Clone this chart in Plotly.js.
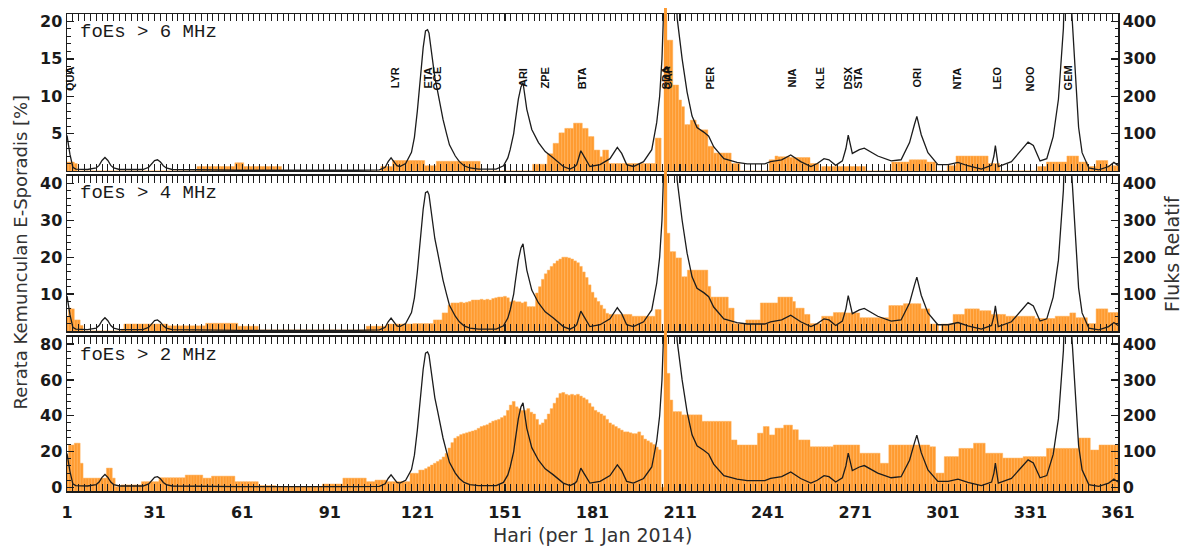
<!DOCTYPE html>
<html><head><meta charset="utf-8">
<script src="https://cdn.plot.ly/plotly-3.0.1.min.js"></script>
<style>html,body{margin:0;padding:0;background:#fff}</style>
</head><body><div id="chart" style="width:1187px;height:548px"></div>
<script>
// ---- data ----
const firstDay = 1, lastDay = 361;
const days = Array.from({length: lastDay - firstDay + 1}, (_, i) => firstDay + i);
const xTicks = [1, 31, 61, 91, 121, 151, 181, 211, 241, 271, 301, 331, 361];

// Es occurrence, foEs > 6 MHz (%)
const es6 = [
1.2,1.2,1.2,1.0,0,0,0,0,0,0,
0,0,0,0,0,0,0,0,0,0,
0,0,0,0,0,0,0,0,0,0,
0,0,0,0,0,0,0,0,0,0,
0,0,0,0,0,0.6,0.6,0.6,0.6,0.6,
0.6,0.6,0.6,0.6,0.6,0.6,0.6,0.6,1.1,1.1,
1.1,0.6,0.6,0.6,0.6,0.6,0.6,0.6,0.6,0.6,
0.6,0.6,0.6,0.6,0,0,0,0,0,0,
0,0,0,0,0,0,0,0,0,0,
0,0,0,0,0,0,0,0,0,0,
0,0,0,0,0,0,0,0,0.6,0.6,
0.6,0.6,1.4,1.4,1.4,1.4,1.4,1.4,1.4,1.4,
1.4,1.4,1.4,0.7,0.7,0.7,0.7,1.3,1.3,1.3,
1.3,1.3,1.3,1.3,1.3,1.3,1.3,1.3,1.3,1.3,
1.3,1.3,0,0,0,0,0,0,0,0,
0,0,0,0,0,0,0,0,0,0,
0.9,0.9,0.9,0.9,0.9,2.3,2.3,3.7,3.7,5.1,
5.1,5.7,5.7,5.7,6.4,6.4,6.4,5.7,5.7,4.6,
4.6,2.8,2.8,1.9,2.8,2.8,1.0,1.0,1.0,1.0,
1.0,1.0,1.0,1.0,1.0,1.0,1.0,1.0,1.0,1.0,
1.0,1.0,4.4,4.4,0,30,17.5,17.5,11.5,11.5,
9.5,8.6,6.2,6.2,6.8,6.8,6.2,5.5,5.5,5.5,
3.3,3.3,2.4,2.4,2.4,2.4,2.4,2.4,1.0,1.0,
1.0,0,0,0,0,0,0,0,0,0,
0,1.5,1.5,2.0,1.9,1.9,1.9,1.9,1.8,1.8,
1.8,1.8,1.8,1.8,1.8,1.0,1.0,1.0,0,0.6,
0.6,0.6,0.6,0.6,0.6,0.6,0.6,0.6,0.6,0.6,
0.6,0.6,0.6,0.6,0,0,0,0,0,0,
0,0,0,1.2,1.2,1.2,1.2,1.2,1.2,1.5,
1.5,1.5,1.5,1.5,1.5,1.2,1.2,1.2,0,0,
0,0,0.7,0.7,0.7,2.0,2.0,2.0,2.0,2.0,
2.0,2.0,2.0,2.0,2.0,2.0,1.0,1.0,1.0,1.0,
0,0,0,0,0,0,0,0,0,0,
0,0,0,0.6,0.6,0.6,1.2,1.2,1.2,1.2,
1.2,1.2,1.2,2.0,2.0,2.0,2.0,1.2,1.2,1.2,
0.6,0.6,0.6,1.4,1.4,1.4,1.4,0.7,0.7,0.7,
0.7];

// Es occurrence, foEs > 4 MHz (%)
const es4 = [
3.9,6.2,6.0,3.0,3.0,1.5,0,0,0,0,
0,0,0,0,0,0,0,0,0,0.5,
1.9,1.9,1.9,1.9,1.9,1.9,1.9,1.9,1.9,1.9,
1.9,1.9,1.9,1.9,1.9,1.4,1.4,1.4,1.4,1.4,
1.4,1.4,1.4,1.4,1.4,1.4,1.4,1.4,2.1,2.1,
2.1,2.1,2.1,2.1,2.1,2.1,2.1,2.1,2.1,1.3,
1.3,1.3,1.3,1.3,1.3,1.3,0.3,0.3,0.3,0.3,
0.3,0.3,0.3,0.3,0.3,0.3,0.3,0.3,0.3,0.3,
0.3,0.3,0.3,0.3,0.3,0.3,0.3,0.3,0.3,0.3,
0.3,0.3,0.3,0.3,0.3,0.3,0.3,0.3,0.3,0.3,
0.3,0.3,0.3,1.3,1.3,1.3,1.3,1.3,1.3,1.3,
1.9,1.9,1.9,1.9,1.9,1.9,1.9,1.9,1.9,2.0,
2.0,2.0,2.0,2.0,2.0,2.0,3.0,3.0,3.0,4.9,
4.9,7.0,7.6,7.6,7.6,7.8,7.6,7.8,8.0,8.4,
8.4,8.4,8.6,8.4,8.6,8.4,8.8,9.0,9.2,9.2,
9.4,9.0,7.9,8.2,7.9,7.9,7.6,7.9,6.6,6.6,
6.6,10.3,12.0,14.0,15.5,16.5,17.5,18.3,19.0,19.5,
20.0,20.0,19.8,19.5,19.0,18.5,17.5,16.0,14.5,12.5,
10.5,9.0,8.0,7.0,6.0,4.8,4.5,4.5,4.5,4.5,
4.5,4.5,4.5,4.5,4.0,4.0,4.0,4.0,4.0,4.0,
4.0,4.0,5.8,5.8,0,50,26.5,21.5,21.5,19.8,
19.8,14.7,14.7,16.5,16.5,16.5,16.5,16.5,16.5,16.5,
12.1,9.2,9.2,9.2,9.2,9.2,9.2,6.2,6.2,2.0,
2.0,2.0,2.0,3.0,3.0,3.0,3.0,3.0,7.6,7.6,
7.6,7.6,7.6,7.6,9.2,9.2,9.2,9.2,9.2,8.0,
6.2,6.2,6.2,4.5,4.5,2.0,2.0,2.0,2.0,4.0,
4.0,4.0,4.0,5.0,5.0,5.0,5.0,4.9,4.9,4.9,
4.9,4.9,3.6,3.6,3.6,3.6,3.6,3.6,3.6,3.6,
3.6,3.6,6.9,6.9,6.9,6.9,6.9,7.4,7.4,7.4,
7.4,7.4,7.4,6.0,6.0,6.0,1.9,1.9,1.9,0,
1.9,1.9,1.9,1.9,4.5,4.5,4.5,4.5,6.0,6.0,
6.0,6.0,6.0,5.5,5.5,5.5,5.5,4.5,4.5,4.5,
4.5,4.5,4.0,4.0,4.0,4.0,4.0,4.0,4.0,4.0,
4.0,4.0,3.4,3.4,3.4,3.4,3.4,3.4,3.4,4.0,
4.0,4.0,4.0,4.0,4.9,4.9,3.6,3.6,3.6,3.6,
2.0,2.0,2.0,6.0,6.0,6.0,6.0,5.0,5.0,5.0,
5.0];

// Es occurrence, foEs > 2 MHz (%)
const es2 = [
17.2,23.7,23.7,24.7,24.7,13.5,5.2,5.2,5.2,5.2,
5.2,5.2,5.2,5.2,10.8,10.8,5.2,0.4,0.4,1.4,
1.4,1.4,1.4,1.4,1.4,1.4,3.2,3.2,3.2,3.2,
3.2,3.2,5.4,5.4,5.4,5.4,5.4,5.4,5.4,5.4,
5.4,6.9,6.9,6.9,6.9,6.9,6.9,5.2,5.2,5.2,
6.3,6.3,6.3,6.3,6.3,6.3,6.3,6.3,3.2,3.2,
3.2,3.2,3.2,3.2,3.2,3.2,1.0,1.0,1.0,1.0,
1.0,1.0,0.5,0.5,0.5,0.5,0.5,0.5,0.5,0.5,
0.5,0.5,0.5,0.5,0.5,0.5,0.5,0.5,1.9,1.9,
1.9,1.9,1.9,1.9,1.9,5.2,5.2,5.2,5.2,5.2,
5.2,5.2,5.2,3.2,3.2,3.2,4.1,4.1,4.1,4.1,
3.2,3.2,3.2,3.2,3.2,3.2,3.2,3.2,7.9,7.9,
7.9,9.7,9.7,10.5,11.5,12.5,13.5,14.5,15.5,17.0,
19.0,22.0,25.0,27.5,28.5,29.5,30.0,30.5,31.0,31.5,
32.0,33.0,34.0,34.5,35.0,36.0,37.0,37.5,38.0,39.0,
40.0,43.0,46.0,48.0,45.0,44.0,43.0,43.0,44.0,42.0,
41.0,38.0,35.0,36.0,38.0,41.0,44.0,47.0,50.0,52.5,
53.0,52.0,51.5,52.0,51.5,52.0,51.0,50.0,49.0,47.0,
45.0,43.0,42.0,41.0,40.0,38.0,36.0,35.0,34.0,33.0,
32.0,31.0,31.0,30.5,30.0,30.0,31.0,29.0,27.0,26.0,
25.0,24.0,22.5,21.0,0,100,63.7,48.8,42.3,42.3,
42.3,40.5,40.5,40.5,40.5,40.5,40.5,40.5,36.9,36.9,
36.9,36.9,36.9,36.9,36.9,36.9,36.9,36.9,26.5,26.5,
23.7,23.7,23.7,23.7,23.7,23.7,23.7,30.3,30.3,34.0,
34.0,29.3,29.3,33.1,33.1,33.1,34.8,34.8,34.8,32.2,
32.2,26.5,26.5,26.5,26.5,22.7,22.7,22.7,22.7,22.7,
22.7,22.7,22.7,23.7,23.7,23.7,23.7,23.7,23.7,23.7,
23.7,23.7,19.1,19.1,19.1,19.1,19.1,19.1,19.1,13.5,
13.5,13.5,23.7,23.7,23.7,23.7,23.7,23.7,23.7,23.7,
23.7,23.7,23.7,23.7,23.7,23.7,22.7,22.7,8.0,8.0,
8.0,17.2,17.2,17.2,17.2,17.2,21.8,21.8,21.8,21.8,
21.8,24.7,24.7,24.7,24.7,19.1,19.1,19.1,19.1,19.1,
19.1,16.4,16.4,16.4,16.4,16.4,16.4,16.4,17.2,17.2,
17.2,17.2,17.2,17.2,17.2,17.2,21.8,21.8,21.8,21.8,
21.8,21.8,21.8,21.8,21.8,21.8,21.8,27.6,27.6,27.6,
27.6,20.9,20.9,20.9,23.7,23.7,23.7,23.7,23.7,23.7,
23.7];

// Relative meteor flux (right axis)
const fluxDays = [1,2,3,4,8,11,12,13,14,15,16,17,19,27,29,30,31,32,33,34,35,37,60,100,108,110,111,112,113,114,115,117,119,120,121,122,123,123.8,124.5,125,126,127,128,129.8,131,132,134,135.4,137,139,142,148,150.5,152,152.8,154,154.5,155.6,156.5,157.2,158.5,160.2,162.5,164.8,167.6,171,173.3,175,175.6,176.5,177,178.4,180.1,183.6,187,189.5,191,192.7,195,198.5,201.3,203,204,204.8,205.4,206.5,208.5,210,211.7,213.4,215.1,216.8,219.1,220.8,222.5,226,230.5,234,240,242,245.8,248.9,252.3,255.8,258,260.3,262,264.3,266.6,267.8,268.6,270,272.4,274.1,278.7,283.3,286.7,289.6,291.3,292.1,293.6,295.9,299.3,302.8,306.2,309.6,314.2,317.7,318.5,319,320,324.5,328,330.2,332,334.3,336.6,338.8,340.6,342.3,343.5,344.5,345.2,346.4,347.5,348.7,351,354.4,357.8,359.6,361];
const fluxVals = [95,45,10,5,4,8,15,28,36,28,15,8,4,4,10,20,28,30,24,14,8,4,2,2,3,10,25,35,24,14,12,20,50,90,160,250,330,375,378,369,310,250,211,138,100,70,40,25,14,8,5,5,14,35,57,100,130,192,225,236,165,111,76,52,35,12,5,12,17,40,54,35,12,17,33,63,47,17,12,25,57,130,200,300,420,700,700,409,300,211,147,116,104,93,65,33,23,19,19,25,30,43,25,12,20,33,30,15,27,60,96,47,57,61,40,27,30,76,125,146,97,49,17,17,23,14,5,15,40,68,12,25,57,77,68,27,33,92,192,382,750,750,420,256,117,49,8,3,12,23,15];

// meteor shower labels (top panel)
const showerNames = ['QUA','LYR','ETA','OCE','ARI','ZPE','BTA','SDA','CAP','PER','NIA','KLE','DSX','STA','ORI','NTA','LEO','NOO','GEM','QUA'];
const showerDays  = [2,113.4,124.8,127.9,157.2,164.9,177.5,206.3,206.9,221.4,249.5,259,268.7,271.8,292,306,319.4,331,344,361.5];

const panelLabels = ['foEs > 6 MHz', 'foEs > 4 MHz', 'foEs > 2 MHz'];
const anomalyDay = 206;

// ---- styling ----
const orange = '#ff9b30';
const ink = '#1c1c1c';
const tickFont = {family: 'DejaVu Sans', size: 16, weight: 'bold', color: '#1a1a1a'};
const xr = [firstDay, lastDay];

function xAxis(anchor, showLabels) {
  return {
    anchor: anchor, domain: [0, 1], range: xr, matches: anchor === 'y' ? undefined : 'x',
    tickvals: xTicks, ticktext: xTicks.map(String), showticklabels: showLabels,
    ticks: 'inside', ticklen: 7, tickwidth: 1.3, tickcolor: ink,
    minor: {dtick: 2, tick0: 1, ticks: 'inside', ticklen: 3.5, tickwidth: 1, tickcolor: ink},
    showline: true, linecolor: ink, linewidth: 1.5, mirror: 'allticks',
    showgrid: false, zeroline: false, tickfont: tickFont, ticklabelstandoff: 6
  };
}
function yLeft(domain, anchor, range, tv, minorStep) {
  return {
    domain: domain, anchor: anchor, range: range, tickvals: tv, ticktext: tv.map(String),
    ticks: 'inside', ticklen: 7, tickwidth: 1.3, tickcolor: ink,
    minor: {dtick: minorStep, tick0: 0, ticks: 'inside', ticklen: 3.5, tickwidth: 1, tickcolor: ink},
    showline: true, linecolor: ink, linewidth: 1.5, showgrid: false, zeroline: false,
    tickfont: tickFont, fixedrange: true
  };
}
function yRight(over, anchor, range, tv) {
  return {
    overlaying: over, anchor: anchor, side: 'right', range: range, tickvals: tv, ticktext: tv.map(String),
    ticks: 'inside', ticklen: 7, tickwidth: 1.3, tickcolor: ink,
    minor: {dtick: 20, tick0: 0, ticks: 'inside', ticklen: 3.5, tickwidth: 1, tickcolor: ink},
    showline: true, linecolor: ink, linewidth: 1.5, showgrid: false, zeroline: false,
    tickfont: tickFont
  };
}

const bottomBase = -2;
const barMarker = {color: orange, line: {width: 0.5, color: '#ffb561'}};
const traces = [
  {type: 'bar', x: days, y: es6, xaxis: 'x', yaxis: 'y', marker: barMarker},
  {type: 'scatter', mode: 'lines', x: fluxDays, y: fluxVals, xaxis: 'x', yaxis: 'y2', line: {color: ink, width: 1.3}},
  {type: 'bar', x: days, y: es4, xaxis: 'x2', yaxis: 'y3', marker: barMarker},
  {type: 'scatter', mode: 'lines', x: fluxDays, y: fluxVals, xaxis: 'x2', yaxis: 'y4', line: {color: ink, width: 1.3}},
  {type: 'bar', x: days, y: es2.map(v => v - bottomBase), base: bottomBase, xaxis: 'x3', yaxis: 'y5', marker: barMarker},
  {type: 'scatter', mode: 'lines', x: fluxDays, y: fluxVals, xaxis: 'x3', yaxis: 'y6', line: {color: ink, width: 1.3}}
];

const H = 477; // plot area height in px
const annotations = [];
const panelY = [{ref: 'y domain', y: 0.885}, {ref: 'y3 domain', y: 0.89}, {ref: 'y5 domain', y: 0.883}];
panelLabels.forEach((t, i) => annotations.push({
  text: t, xref: 'paper', x: 0.0105, xanchor: 'left', yref: panelY[i].ref, y: panelY[i].y, yanchor: 'middle',
  showarrow: false, font: {family: 'Liberation Mono', size: 19, color: '#1a1a1a'}
}));
showerNames.forEach((n, i) => annotations.push({
  text: n, xref: 'x', x: showerDays[i], xanchor: 'center', yref: 'y domain', y: 0.592, yanchor: 'middle', textangle: -90,
  showarrow: false, font: {family: 'Liberation Sans Narrow, Liberation Sans', size: 11, weight: 'bold', color: '#111'}
}));
annotations.push({text: 'Rerata Kemunculan E-Sporadis [%]', xref: 'paper', x: -0.0447, xanchor: 'center', yref: 'paper', y: 0.5, yanchor: 'middle',
  textangle: -90, showarrow: false, font: {family: 'DejaVu Sans', size: 18, color: '#333'}});
annotations.push({text: 'Fluks Relatif', xref: 'paper', x: 1.0514, xanchor: 'center', yref: 'paper', y: 0.497, yanchor: 'middle',
  textangle: -90, showarrow: false, font: {family: 'DejaVu Sans', size: 19, color: '#333'}});
annotations.push({text: 'Hari (per 1 Jan 2014)', xref: 'paper', x: 0.5, xanchor: 'center', yref: 'paper', y: -0.0922, yanchor: 'middle',
  showarrow: false, font: {family: 'DejaVu Sans', size: 19, color: '#333'}});

const toPaperX = d => (d - xr[0]) / (xr[1] - xr[0]);
const shapes = [{type: 'rect', layer: 'above', xref: 'paper', yref: 'paper',
  x0: toPaperX(anomalyDay - 0.5), x1: toPaperX(anomalyDay + 0.5), y0: 0, y1: 1 + 6 / H,
  fillcolor: orange, line: {width: 0}}];

const layout = {
  width: 1187, height: 548, margin: {l: 67, r: 69, t: 14, b: 57},
  paper_bgcolor: '#fff', plot_bgcolor: '#fff', showlegend: false, bargap: 0,
  xaxis: xAxis('y', false), xaxis2: xAxis('y3', false), xaxis3: xAxis('y5', true),
  yaxis: yLeft([0.6709, 1], 'x', [0, 21], [5, 10, 15, 20], 1),
  yaxis2: yRight('y', 'x', [0, 420], [100, 200, 300, 400]),
  yaxis3: yLeft([0.3354, 0.6604], 'x2', [0, 42], [10, 20, 30, 40], 2),
  yaxis4: yRight('y3', 'x2', [0, 420], [100, 200, 300, 400]),
  yaxis5: yLeft([0, 0.3229], 'x3', [-2, 84], [0, 20, 40, 60, 80], 4),
  yaxis6: yRight('y5', 'x3', [-10, 420], [0, 100, 200, 300, 400]),
  annotations: annotations, shapes: shapes
};
Plotly.newPlot('chart', traces, layout, {staticPlot: true, displayModeBar: false});
</script></body></html>
